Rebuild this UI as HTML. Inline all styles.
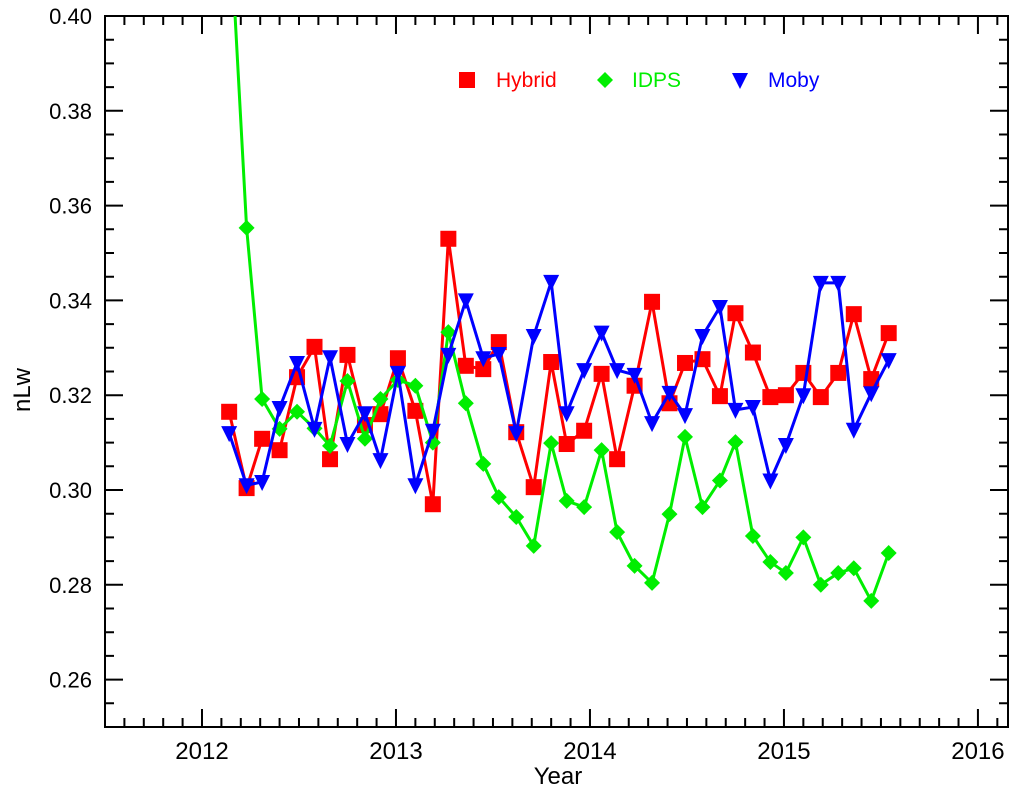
<!DOCTYPE html>
<html><head><meta charset="utf-8"><style>
body{margin:0;background:#fff;}
svg{display:block;font-family:"Liberation Sans",sans-serif;}
</style></head><body>
<svg id="chart" width="1024" height="800" viewBox="0 0 1024 800" xmlns="http://www.w3.org/2000/svg">
<defs><clipPath id="plotclip"><rect x="105" y="16" width="903" height="711"/></clipPath></defs>
<g id="grid"></g>
<g id="series" clip-path="url(#plotclip)"></g>
<g id="legend"></g>
<text x="30" y="390" font-size="24" text-anchor="middle" transform="rotate(-90 30 390)">nLw</text>
<text x="558" y="784" font-size="24" text-anchor="middle">Year</text>
</svg>
<script>
const dates=[2012.14,2012.23,2012.31,2012.40,2012.49,2012.58,2012.66,2012.75,2012.84,2012.92,2013.01,2013.10,2013.19,2013.27,2013.36,2013.45,2013.53,2013.62,2013.71,2013.80,2013.88,2013.97,2014.06,2014.14,2014.23,2014.32,2014.41,2014.49,2014.58,2014.67,2014.75,2014.84,2014.93,2015.01,2015.10,2015.19,2015.28,2015.36,2015.45,2015.54];
const hybrid=[.3165,.3004,.3108,.3084,.3238,.3302,.3065,.3285,.3137,.316,.3278,.3167,.297,.353,.3262,.3255,.3312,.3122,.3006,.327,.3097,.3125,.3245,.3065,.322,.3397,.3183,.3268,.3276,.3198,.3373,.329,.3196,.320,.3247,.3196,.3247,.3371,.3234,.3331];
const idps=[.423,.3553,.3192,.3129,.3165,.313,.3093,.323,.3108,.3192,.3232,.322,.31,.3333,.3183,.3055,.2985,.2943,.2882,.3099,.2977,.2964,.3084,.2911,.284,.2804,.2949,.3112,.2964,.302,.3101,.2903,.2848,.2825,.290,.280,.2825,.2835,.2766,.2867];
const moby=[.312,.301,.3017,.3173,.3268,.3129,.328,.3097,.3162,.3063,.3247,.301,.3125,.3285,.340,.3278,.3287,.312,.3325,.3439,.3162,.3253,.3332,.3253,.3243,.3141,.3205,.3158,.3325,.3386,.3169,.3175,.302,.3095,.320,.3437,.3437,.3127,.3204,.3274];
const xTicks=[2012,2013,2014,2015,2016];
const yTicks=[0.26,0.28,0.30,0.32,0.34,0.36,0.38,0.40];
const yTickLabels=["0.26","0.28","0.30","0.32","0.34","0.36","0.38","0.40"];
const NS="http://www.w3.org/2000/svg";
const L=105,R=1008,T=16,B=727,X0=2011.5,X1=2016.155,Y0=0.25,Y1=0.40;
const xs=v=>L+(v-X0)/(X1-X0)*(R-L);
const ys=v=>B-(v-Y0)/(Y1-Y0)*(B-T);
function mk(tag,attrs,parent){const e=document.createElementNS(NS,tag);for(const k in attrs)e.setAttribute(k,attrs[k]);parent.appendChild(e);return e;}
const grid=document.getElementById('grid');
const frame=mk('rect',{x:L,y:T,width:R-L,height:B-T,fill:'none',stroke:'#000','stroke-width':2},grid);


let d='';
for(let v=2011.5;v<=X1+1e-6;v+=0.1){const x=xs(v);const maj=Math.abs(v-Math.round(v))<1e-6;const len=maj?18:9;d+=`M${x},${B}v${-len}M${x},${T}v${len}`;}
for(let v=0.25;v<=0.40001;v+=0.005){const y=ys(v);const maj=Math.abs(v*50-Math.round(v*50))<1e-6;const len=maj?18:9;d+=`M${L},${y}h${len}M${R},${y}h${-len}`;}
const ticks=mk('path',{d:d,stroke:'#000','stroke-width':2,fill:'none'},grid);


xTicks.forEach(v=>{const t=mk('text',{x:xs(v),y:759,'font-size':24,'text-anchor':'middle'},grid);t.textContent=String(v);

});
yTicks.forEach((v,i)=>{const t=mk('text',{x:92,y:ys(v)+8,'font-size':22,'text-anchor':'end'},grid);t.textContent=yTickLabels[i];

});
function marker(kind,x,y,color,parent){
 let e;
 if(kind==='sq')e=mk('rect',{x:x-8,y:y-8,width:16,height:16,fill:color},parent);
 else if(kind==='dia')e=mk('path',{d:`M${x},${y-8}L${x+8},${y}L${x},${y+8}L${x-8},${y}Z`,fill:color},parent);
 else e=mk('path',{d:`M${x-8},${y-7}L${x+8},${y-7}L${x},${y+9}Z`,fill:color},parent);
 return e;
}
const sg=document.getElementById('series');
function drawSeries(vals,color,kind,name){
 const g=mk('g',{},sg);
 
 
 const pts=vals.map((v,i)=>xs(dates[i])+','+ys(v)).join(' ');
 const pl=mk('polyline',{points:pts,fill:'none',stroke:color,'stroke-width':3,'stroke-linejoin':'round'},g);
 
 
 vals.forEach((v,i)=>{const m=marker(kind,xs(dates[i]),ys(v),color,g);
 
 });
}
drawSeries(hybrid,'#ff0000','sq','hybrid');
drawSeries(idps,'#00ee00','dia','idps');
drawSeries(moby,'#0000ff','tri','moby');
const lg=document.getElementById('legend');
[['Hybrid','#ff0000','sq',467,496],['IDPS','#00ee00','dia',605,632],['Moby','#0000ff','tri',740,768]].forEach(e=>{
 const m=marker(e[2],e[3],80,e[1],lg);
 
 
 const t=mk('text',{x:e[4],y:87,'font-size':21,fill:e[1]},lg);t.textContent=e[0];
 
 
});
</script>
</body></html>
